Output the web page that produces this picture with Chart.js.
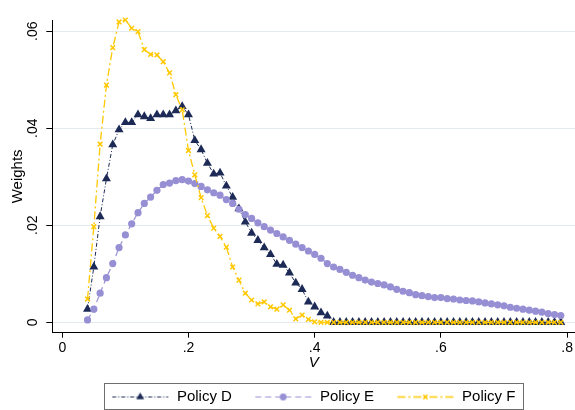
<!DOCTYPE html>
<html>
<head>
<meta charset="utf-8">
<script src="https://cdn.jsdelivr.net/npm/chart.js"></script>
<style>
html, body { margin: 0; padding: 0; background: #fff; overflow: hidden; }
#wrap { width: 575px; height: 410px; position: relative; }
</style>
</head>
<body>
<div id="wrap"><canvas id="c"></canvas></div>
<script>
// Grid of V values shared by the three policies
const vGrid = [
  0.04, 0.05, 0.06, 0.07, 0.08, 0.09, 0.10, 0.11, 0.12, 0.13,
  0.14, 0.15, 0.16, 0.17, 0.18, 0.19, 0.20, 0.21, 0.22, 0.23,
  0.24, 0.25, 0.26, 0.27, 0.28, 0.29, 0.30, 0.31, 0.32, 0.33,
  0.34, 0.35, 0.36, 0.37, 0.38, 0.39, 0.40, 0.41, 0.42, 0.43,
  0.44, 0.45, 0.46, 0.47, 0.48, 0.49, 0.50, 0.51, 0.52, 0.53,
  0.54, 0.55, 0.56, 0.57, 0.58, 0.59, 0.60, 0.61, 0.62, 0.63,
  0.64, 0.65, 0.66, 0.67, 0.68, 0.69, 0.70, 0.71, 0.72, 0.73,
  0.74, 0.75, 0.76, 0.77, 0.78, 0.79
];

const policyD = [
  0.0027, 0.0114, 0.0218, 0.0296, 0.0366, 0.0397, 0.0412, 0.0412, 0.0428, 0.0424,
  0.0420, 0.0428, 0.0428, 0.0428, 0.0436, 0.0445, 0.0428, 0.0375, 0.0356, 0.0328,
  0.0306, 0.0308, 0.0281, 0.0258, 0.0234, 0.0207, 0.0184, 0.0169, 0.0154, 0.0140,
  0.0120, 0.0118, 0.0102, 0.0081, 0.0068, 0.0042, 0.0032, 0.0020, 0.0013, 0,
  0, 0, 0, 0, 0, 0, 0, 0, 0, 0,
  0, 0, 0, 0, 0, 0, 0, 0, 0, 0,
  0, 0, 0, 0, 0, 0, 0, 0, 0, 0,
  0, 0, 0, 0, 0, 0
];

const policyE = [
  0.0005, 0.0027, 0.0060, 0.0092, 0.0121, 0.0154, 0.0180, 0.0203, 0.0226, 0.0245,
  0.0258, 0.0272, 0.0284, 0.0287, 0.0292, 0.0294, 0.0291, 0.0286, 0.0280, 0.0273,
  0.0267, 0.0262, 0.0253, 0.0245, 0.0233, 0.0222, 0.0214, 0.0205, 0.0197, 0.0190,
  0.0183, 0.0176, 0.0169, 0.0161, 0.0154, 0.0147, 0.0140, 0.0132, 0.0121, 0.0114,
  0.0109, 0.0103, 0.0097, 0.0092, 0.0087, 0.0083, 0.0080, 0.0077, 0.0073, 0.0068,
  0.0064, 0.0061, 0.0057, 0.0055, 0.0053, 0.0051, 0.0051, 0.0049, 0.0048, 0.0046,
  0.0045, 0.0044, 0.0042, 0.0040, 0.0038, 0.0036, 0.0034, 0.0031, 0.0029, 0.0027,
  0.0025, 0.0023, 0.0021, 0.0018, 0.0016, 0.0014
];

const policyF = [
  0.0048, 0.0197, 0.0367, 0.0489, 0.0566, 0.0619, 0.0623, 0.0606, 0.0599, 0.0562,
  0.0552, 0.0551, 0.0537, 0.0514, 0.0469, 0.0438, 0.0354, 0.0304, 0.0257, 0.0220,
  0.0194, 0.0177, 0.0155, 0.0114, 0.0087, 0.0060, 0.0046, 0.0038, 0.0042, 0.0032,
  0.0027, 0.0036, 0.0025, 0.0007, 0.0015, 0.0006, 0.0001, 0, 0, 0,
  0, 0, 0, 0, 0, 0, 0, 0, 0, 0,
  0, 0, 0, 0, 0, 0, 0, 0, 0, 0,
  0, 0, 0, 0, 0, 0, 0, 0, 0, 0,
  0, 0, 0, 0, 0, 0
];

const seriesNames = ['Policy D', 'Policy E', 'Policy F'];
const xTickValues = [0, 0.2, 0.4, 0.6, 0.8];
const xTickLabels = ['0', '.2', '.4', '.6', '.8'];
const yTickValues = [0, 0.02, 0.04, 0.06];
const yTickLabels = ['0', '.02', '.04', '.06'];

const FONT = "'Liberation Sans', Arial, Helvetica, sans-serif";
Chart.defaults.font.family = FONT;
Chart.defaults.color = '#000';

const styles = [
  { color: '#1c2a55', dash: [4, 2, 1, 2], width: 1, point: 'triangle', radius: 5.2, pointBorder: 0 },
  { color: '#968fd4', dash: [6, 4], width: 1.2, point: 'circle', radius: 3.6, pointBorder: 0 },
  { color: '#ffc800', dash: [8, 3, 2, 3], width: 1.3, point: 'crossRot', radius: 3.3, pointBorder: 1.5 }
];
const seriesValues = [policyD, policyE, policyF];

// Line + marker swatch used as each legend key
function makeKey(st) {
  const c = document.createElement('canvas');
  c.width = 58; c.height = 16;
  const g = c.getContext('2d');
  g.strokeStyle = st.color; g.fillStyle = st.color;
  g.lineWidth = st.width;
  g.setLineDash(st.dash);
  g.beginPath(); g.moveTo(0.5, 8.5); g.lineTo(56.5, 8.5); g.stroke();
  g.setLineDash([]);
  const r = st.point === 'triangle' ? 4.6 : st.point === 'circle' ? 3.4 : 3.0;
  g.lineWidth = st.pointBorder;
  Chart.helpers.drawPoint(g, { pointStyle: st.point, radius: r, borderWidth: st.pointBorder, rotation: 0 }, 28.5, 8.5);
  return c;
}
const legendKeys = styles.map(makeKey);

const datasets = seriesValues.map((vals, i) => {
  const st = styles[i];
  return {
    label: seriesNames[i],
    data: vals.map((y, k) => ({ x: vGrid[k], y })),
    borderColor: st.color,
    backgroundColor: st.color,
    borderWidth: st.width,
    borderDash: st.dash,
    pointStyle: st.point,
    pointRadius: st.radius,
    pointBackgroundColor: st.color,
    pointBorderColor: st.color,
    pointBorderWidth: st.pointBorder,
    tension: 0,
    fill: false,
    clip: false,
    order: 3 - i
  };
});

// Frame drawn around the legend entries
const legendFrame = {
  id: 'legendFrame',
  afterDraw(chart) {
    const hb = chart.legend && chart.legend.legendHitBoxes;
    if (!hb || !hb.length) return;
    const first = hb[0], last = hb[hb.length - 1];
    const l = Math.round(first.left - 8) + 0.5;
    const r = Math.round(last.left + last.width + 8) + 0.5;
    const t = Math.round(first.top - 6) + 0.5;
    const b = t + 26;
    const ctx = chart.ctx;
    ctx.save();
    ctx.strokeStyle = '#6e6e6e';
    ctx.lineWidth = 1;
    ctx.strokeRect(l, t, r - l, b - t);
    ctx.restore();
  }
};

new Chart(document.getElementById('c'), {
  type: 'line',
  data: { datasets },
  plugins: [legendFrame],
  options: {
    responsive: true,
    maintainAspectRatio: false,
    animation: false,
    events: [],
    layout: { autoPadding: false, padding: { top: 20, left: 9, right: 0, bottom: -4 } },
    plugins: {
      tooltip: { enabled: false },
      legend: {
        position: 'bottom',
        fullSize: false,
        align: 'center',
        labels: {
          usePointStyle: true,
          pointStyleWidth: 57.5,
          boxHeight: 15,
          padding: 23,
          color: '#000',
          font: { size: 15, family: FONT },
          generateLabels: (chart) => chart.data.datasets.map((ds, i) => ({
            text: ds.label,
            fillStyle: ds.borderColor,
            strokeStyle: ds.borderColor,
            lineWidth: 0,
            pointStyle: legendKeys[i],
            fontColor: '#000',
            hidden: false,
            datasetIndex: i
          }))
        }
      }
    },
    scales: {
      x: {
        type: 'linear',
        min: -0.0158,
        max: 0.8125,
        afterBuildTicks: (s) => { s.ticks = xTickValues.map(v => ({ value: v })); },
        afterFit: (s) => { s.paddingLeft = 0; s.paddingRight = 0; },
        ticks: {
          autoSkip: false,
          maxRotation: 0,
          padding: 3.3,
          color: '#000',
          font: { size: 14, lineHeight: 1.0 },
          callback: (v, i) => xTickLabels[i]
        },
        grid: { drawOnChartArea: false, drawTicks: true, tickLength: 5, tickColor: '#000', tickWidth: 1 },
        border: { display: true, color: '#000', width: 1 },
        title: {
          display: true, text: 'V', color: '#000',
          font: { size: 15, style: 'italic', lineHeight: 0.4 },
          padding: { top: 1.7, bottom: 0 }
        }
      },
      y: {
        type: 'linear',
        min: -0.00214,
        max: 0.0623,
        afterBuildTicks: (s) => { s.ticks = yTickValues.map(v => ({ value: v })); },
        afterFit: (s) => { s.paddingTop = 0; s.paddingBottom = 0; },
        ticks: {
          autoSkip: false,
          minRotation: 90,
          maxRotation: 90,
          crossAlign: 'center',
          padding: 3,
          color: '#000',
          font: { size: 14, lineHeight: 0.857 },
          callback: (v, i) => yTickLabels[i]
        },
        grid: { color: '#e3eaed', lineWidth: 1, drawTicks: true, tickLength: 6, tickColor: '#000', tickWidth: 1 },
        border: { display: true, color: '#000', width: 1 },
        title: {
          display: true, text: 'Weights', color: '#000',
          font: { size: 15 },
          padding: { top: 0, bottom: 1.3 }
        }
      }
    }
  }
});
</script>
</body>
</html>
